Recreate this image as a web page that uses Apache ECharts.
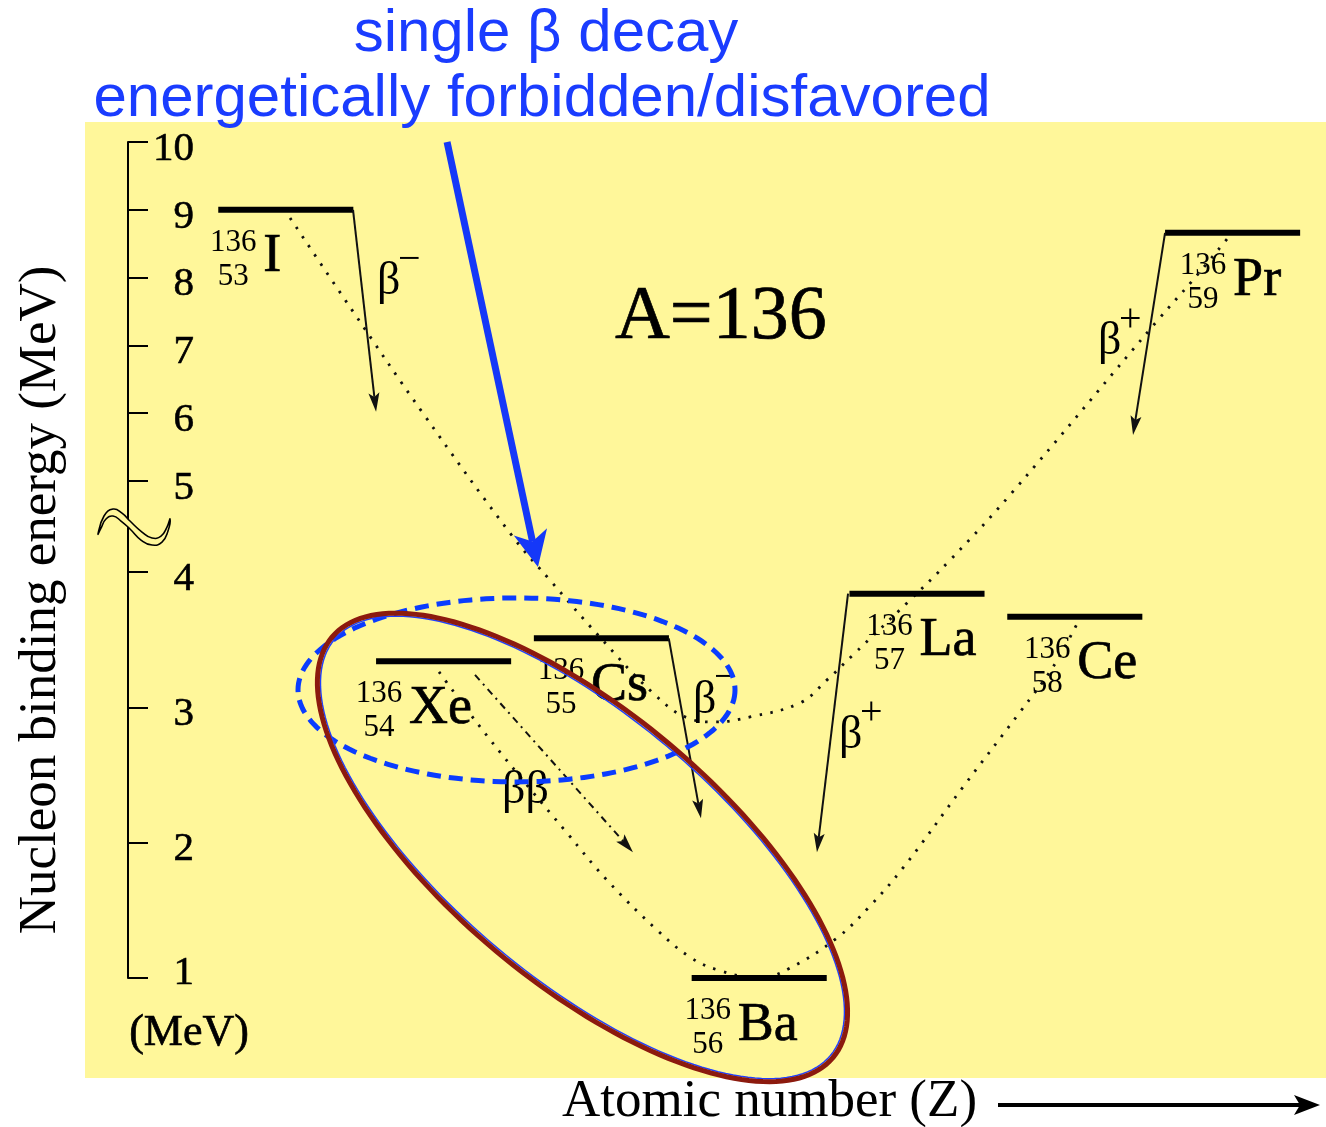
<!DOCTYPE html>
<html><head><meta charset="utf-8">
<script src="https://cdn.jsdelivr.net/npm/echarts@6.0.0/dist/echarts.min.js"></script>
<style>html,body{margin:0;padding:0;background:#fff}#chart{width:1326px;height:1127px}</style>
</head><body><div id="chart"></div>
<script>
// ---------------- data ----------------
const ELEMENTS = ['I', 'Xe', 'Cs', 'Ba', 'La', 'Ce', 'Pr'];
const ATOMIC_NUMBER = [53, 54, 55, 56, 57, 58, 59];
const MASS_NUMBER = 136;
const LEVEL_MEV = [9.00, 3.34, 3.51, 1.00, 3.84, 3.67, 8.66];
const Y_TICKS_MEV = [1, 2, 3, 4, 5, 6, 7, 8, 9, 10];

// odd-odd mass parabola (I - Cs - La - Pr), [Z, MeV]
const ODD_ODD_CURVE = [
  [53.027, 8.88], [53.420, 7.52], [53.869, 6.00], [54.440, 4.385], [54.674, 3.94],
  [54.978, 3.535], [55.327, 3.106], [55.549, 2.92], [55.720, 2.892], [55.942, 2.929],
  [56.259, 3.033], [56.430, 3.203], [56.594, 3.387], [56.937, 3.772], [57.209, 4.13],
  [57.589, 4.846], [58.527, 7.375], [58.749, 7.965], [58.965, 8.569]
];
// even-even mass parabola (Xe - Ba - Ce), [Z, MeV]
const EVEN_EVEN_CURVE = [
  [53.971, 3.262], [54.212, 2.885], [54.465, 2.515], [54.782, 2.072], [55.035, 1.724],
  [55.352, 1.355], [55.561, 1.155], [55.739, 1.059], [55.999, 1.000], [56.195, 1.074],
  [56.493, 1.296], [56.690, 1.517], [56.911, 1.813], [57.292, 2.412], [57.653, 2.966],
  [57.862, 3.299], [58.020, 3.631]
];
// single beta decays: [Z from, MeV from, Z to, MeV to]
const BETA_ARROWS = [
  [53.426, 9.00, 53.572, 6.02],
  [55.427, 3.51, 55.631, 2.18],
  [56.563, 3.84, 56.366, 1.93],
  [58.572, 8.66, 58.369, 5.68]
];
const BETA_SYMBOL = ['β', 'β', 'β', 'β'];
const BETA_SIGN = ['−', '−', '+', '+'];
const BETA_LABEL_AT = [[53.578, 7.876], [55.580, 3.018], [56.506, 2.759], [58.147, 6.991]];
// double beta decay Xe -> Ba
const DOUBLE_BETA_ARROW = [[54.199, 3.24, 55.200, 1.93]];
const DOUBLE_BETA_LABEL = 'ββ';
const DOUBLE_BETA_LABEL_AT = [54.370, 2.353];
const MASS_LABEL_AT = [55.086, 7.404];

// annotation anchors (data coordinates)
const NOTE_ARROW = [[54.022, 10.0, 54.598, 4.055]];
const NOTE_ELLIPSES = [[54.462, 3.129], [54.880, 1.965]];
const AXIS_BREAK_AT = [[52, 4.5]];

// ---------------- broken y axis (1-4 MeV full scale, 5-10 MeV half scale) ----------------
const AXIS_KNOTS = [[1, 1], [4, 4], [5, 4.6726], [10, 7.178]];
function toV(m) {
  for (let k = 1; k < AXIS_KNOTS.length; k++) {
    const a = AXIS_KNOTS[k - 1], b = AXIS_KNOTS[k];
    if (m <= b[0] || k === AXIS_KNOTS.length - 1) return a[1] + (m - a[0]) * (b[1] - a[1]) / (b[0] - a[0]);
  }
}
function fromV(v) {
  for (let k = 1; k < AXIS_KNOTS.length; k++) {
    const a = AXIS_KNOTS[k - 1], b = AXIS_KNOTS[k];
    if (v <= b[1] + 1e-9 || k === AXIS_KNOTS.length - 1) return a[0] + (v - a[1]) * (b[0] - a[0]) / (b[1] - a[1]);
  }
}

// ---------------- layout / style ----------------
const SERIF = '"Liberation Serif", "Times New Roman", serif';
const SANS = '"Liberation Sans", Arial, sans-serif';
const LEVEL_HALF_WIDTH = 0.428;
const SYMBOL_DX = [-22.5, -34.5, -10.5, -21.5, 2.5, 2.5, 0.5];
const BLUE = '#1a3cff';
const RED = '#8c1a0e';

function arrowGroup(p1, p2, o) {
  const dx = p2[0] - p1[0], dy = p2[1] - p1[1], L = Math.hypot(dx, dy);
  const ux = dx / L, uy = dy / L, px = -uy, py = ux;
  const bx = p2[0] - ux * o.len, by = p2[1] - uy * o.len;
  const nx = p2[0] - ux * (o.len - o.notch), ny = p2[1] - uy * (o.len - o.notch);
  return {
    type: 'group', children: [
      { type: 'line', shape: { x1: p1[0], y1: p1[1], x2: nx, y2: ny },
        style: { stroke: o.color, lineWidth: o.width, lineDash: o.dash || null, fill: null } },
      { type: 'polygon', shape: { points: [[p2[0], p2[1]], [bx + px * o.hw, by + py * o.hw], [nx, ny], [bx - px * o.hw, by - py * o.hw]] },
        style: { fill: o.color } }
    ]
  };
}
function ellipsePts(cx, cy, a, b, ang) {
  const pts = [], c = Math.cos(ang), s = Math.sin(ang);
  for (let k = 0; k < 180; k++) {
    const t = 2 * Math.PI * k / 180, x = a * Math.cos(t), y = b * Math.sin(t);
    pts.push([cx + x * c - y * s, cy + x * s + y * c]);
  }
  return pts;
}
const SQUIGGLE = [[-30, 7.5], [-24, -10.5], [-15, -17.5], [-6, -13.5], [2, -5.5], [14, 5.5], [24, 11.5],
  [33, 9.5], [39, 0.5], [42, -7.5], [40, 4.5], [34, 15.5], [24, 18.5], [13, 13.5], [2, 2.5], [-7, -5.5],
  [-15, -10.5], [-22, -7.5], [-27, 1.5]];

const HEAVY = { stroke: '#000', lineWidth: 0.7 };

const option = {
  animation: false,
  backgroundColor: '#ffffff',
  grid: { left: 128, right: 14.5, top: 142, bottom: 149, containLabel: false },
  xAxis: { type: 'value', min: 52, max: 59.5, show: false },
  yAxis: {
    type: 'value', min: toV(1), max: toV(10), position: 'left',
    axisLine: { show: true, onZero: false, lineStyle: { color: '#000', width: 2 } },
    axisTick: { show: true, inside: true, length: 20, customValues: Y_TICKS_MEV.map(toV),
      lineStyle: { color: '#000', width: 2 } },
    axisLabel: {
      show: true, inside: true, margin: 66, align: 'right', color: '#000',
      customValues: Y_TICKS_MEV.map(toV),
      formatter: v => { const m = Math.round(fromV(v)); return m === 1 ? '{lo|' + m + '}' : '{n|' + m + '}'; },
      rich: {
        n: { fontFamily: SERIF, fontSize: 41, color: '#000', textBorderColor: '#000', textBorderWidth: 0.6, padding: [14, 0, 0, 0] },
        lo: { fontFamily: SERIF, fontSize: 41, color: '#000', textBorderColor: '#000', textBorderWidth: 0.6, padding: [0, 0, 10, 0] }
      }
    },
    splitLine: { show: false }
  },
  graphic: [
    { type: 'rect', z: -10, silent: true, shape: { x: 85, y: 122, width: 1241, height: 956 }, style: { fill: '#fff79a' } },
    { type: 'text', x: 546, y: 34, z: 20, style: { text: 'single β decay', font: '60px ' + SANS, fill: BLUE, align: 'center', verticalAlign: 'middle' } },
    { type: 'text', x: 542, y: 99, z: 20, style: { text: 'energetically forbidden/disfavored', font: '60px ' + SANS, fill: BLUE, align: 'center', verticalAlign: 'middle' } },
    { type: 'text', x: 41, y: 600, rotation: Math.PI / 2, z: 20, style: { text: 'Nucleon binding energy (MeV)', font: '53px ' + SERIF, fill: '#000', align: 'center', verticalAlign: 'middle' } },
    { type: 'text', x: 189, y: 1033, z: 20, style: Object.assign({ text: '(MeV)', font: '44px ' + SERIF, fill: '#000', align: 'center', verticalAlign: 'middle' }, HEAVY) },
    { type: 'text', x: 562, y: 1102, z: 20, style: { text: 'Atomic number (Z)', font: '53px ' + SERIF, fill: '#000', align: 'left', verticalAlign: 'middle' } },
    { type: 'line', z: 20, shape: { x1: 998, y1: 1105, x2: 1302, y2: 1105 }, style: { stroke: '#000', lineWidth: 4 } },
    { type: 'polygon', z: 20, shape: { points: [[1320, 1105], [1294, 1095], [1300, 1105], [1294, 1115]] }, style: { fill: '#000' } }
  ],
  series: [
    { // odd-odd parabola
      type: 'line', name: 'odd-odd', data: ODD_ODD_CURVE.map(p => [p[0], toV(p[1])]),
      smooth: 0.4, symbol: 'none', clip: false, silent: true, z: 2,
      lineStyle: { color: '#111', width: 2.8, type: [2.5, 8.5] }
    },
    { // even-even parabola
      type: 'line', name: 'even-even', data: EVEN_EVEN_CURVE.map(p => [p[0], toV(p[1])]),
      smooth: 0.4, symbol: 'none', clip: false, silent: true, z: 2,
      lineStyle: { color: '#111', width: 2.8, type: [2.5, 8.5] }
    },
    { // energy levels + nuclide labels
      type: 'custom', name: 'levels', clip: false, z: 3, silent: true,
      data: ATOMIC_NUMBER.map((z, i) => [z, LEVEL_MEV[i]]),
      renderItem: (params, api) => {
        const i = params.dataIndex, z = api.value(0), m = api.value(1);
        const c = api.coord([z, toV(m)]);
        const l = api.coord([z - LEVEL_HALF_WIDTH, toV(m)]);
        const r = api.coord([z + LEVEL_HALF_WIDTH, toV(m)]);
        const sx = c[0] + SYMBOL_DX[i];
        return {
          type: 'group', children: [
            { type: 'line', shape: { x1: l[0], y1: l[1], x2: r[0], y2: r[1] }, style: { stroke: '#000', lineWidth: 6 } },
            { type: 'text', x: sx - 30, y: c[1] + 33, style: { text: String(MASS_NUMBER), font: '31px ' + SERIF, fill: '#000', align: 'center', verticalAlign: 'middle' } },
            { type: 'text', x: sx - 30, y: c[1] + 67, style: { text: String(ATOMIC_NUMBER[i]), font: '31px ' + SERIF, fill: '#000', align: 'center', verticalAlign: 'middle' } },
            { type: 'text', x: sx, y: c[1] + 47.5, style: Object.assign({ text: ELEMENTS[i], font: '54px ' + SERIF, fill: '#000', align: 'left', verticalAlign: 'middle' }, HEAVY) }
          ]
        };
      }
    },
    { // single beta decay arrows
      type: 'custom', name: 'beta', clip: false, z: 4, silent: true,
      data: BETA_ARROWS,
      renderItem: (params, api) => {
        const p1 = api.coord([api.value(0), toV(api.value(1))]);
        const p2 = api.coord([api.value(2), toV(api.value(3))]);
        return arrowGroup(p1, p2, { len: 19, hw: 5.5, notch: 4, width: 2, color: '#111' });
      }
    },
    { // beta labels
      type: 'custom', name: 'beta labels', clip: false, z: 4, silent: true,
      data: BETA_LABEL_AT,
      renderItem: (params, api) => {
        const i = params.dataIndex;
        const p = api.coord([api.value(0), toV(api.value(1))]);
        return {
          type: 'group', children: [
            { type: 'text', x: p[0], y: p[1] - 4, style: { text: BETA_SYMBOL[i], font: '46px ' + SERIF, fill: '#000', align: 'left', verticalAlign: 'middle' } },
            { type: 'text', x: p[0] + 21, y: p[1] - 26, style: { text: BETA_SIGN[i], font: '40px ' + SERIF, fill: '#000', align: 'left', verticalAlign: 'middle' } }
          ]
        };
      }
    },
    { // double beta arrow
      type: 'custom', name: 'double beta', clip: false, z: 4, silent: true,
      data: DOUBLE_BETA_ARROW,
      renderItem: (params, api) => {
        const p1 = api.coord([api.value(0), toV(api.value(1))]);
        const p2 = api.coord([api.value(2), toV(api.value(3))]);
        return arrowGroup(p1, p2, { len: 19, hw: 5.5, notch: 4, width: 2, color: '#111', dash: [7, 5, 2, 5] });
      }
    },
    { // text labels ββ and A=136
      type: 'custom', name: 'texts', clip: false, z: 4, silent: true,
      data: [DOUBLE_BETA_LABEL_AT, MASS_LABEL_AT],
      renderItem: (params, api) => {
        const p = api.coord([api.value(0), toV(api.value(1))]);
        if (params.dataIndex === 0) {
          return { type: 'text', x: p[0], y: p[1] - 4, style: { text: DOUBLE_BETA_LABEL, font: '46px ' + SERIF, fill: '#000', align: 'left', verticalAlign: 'middle' } };
        }
        return { type: 'text', x: p[0], y: p[1], style: Object.assign({ text: 'A=' + MASS_NUMBER, font: '76px ' + SERIF, fill: '#000', align: 'left', verticalAlign: 'middle' }, HEAVY) };
      }
    },
    { // axis break squiggle
      type: 'custom', name: 'axis break', clip: false, z: 5, silent: true,
      data: AXIS_BREAK_AT,
      renderItem: (params, api) => {
        const p = api.coord([api.value(0), toV(api.value(1))]);
        return { type: 'polygon', shape: { points: SQUIGGLE.map(q => [p[0] + q[0], p[1] + q[1]]), smooth: 0.5 },
          style: { fill: '#fff79a', stroke: '#000', lineWidth: 1.6 } };
      }
    },
    { // highlight ellipses
      type: 'custom', name: 'highlights', clip: false, z: 8, silent: true,
      data: NOTE_ELLIPSES,
      renderItem: (params, api) => {
        const p = api.coord([api.value(0), toV(api.value(1))]);
        if (params.dataIndex === 0) {
          return { type: 'polygon', shape: { points: ellipsePts(p[0], p[1], 218.5, 92, 0) },
            style: { fill: null, stroke: '#0a3cff', lineWidth: 5, lineDash: [14, 8] } };
        }
        const ang = 40 * Math.PI / 180;
        return {
          type: 'group', children: [
            { type: 'polygon', shape: { points: ellipsePts(p[0], p[1], 323.7, 131.7, ang) }, style: { fill: null, stroke: '#2040ff', lineWidth: 1.5 } },
            { type: 'polygon', shape: { points: ellipsePts(p[0], p[1], 327, 135, ang) }, style: { fill: null, stroke: RED, lineWidth: 5 } }
          ]
        };
      }
    },
    { // blue pointer arrow
      type: 'custom', name: 'pointer', clip: false, z: 9, silent: true,
      data: NOTE_ARROW,
      renderItem: (params, api) => {
        const p1 = api.coord([api.value(0), toV(api.value(1))]);
        const p2 = api.coord([api.value(2), toV(api.value(3))]);
        return arrowGroup(p1, p2, { len: 36, hw: 17, notch: 10, width: 7, color: '#1538f8' });
      }
    }
  ]
};
const chart = echarts.init(document.getElementById('chart'));
chart.setOption(option);
</script>
</body></html>
